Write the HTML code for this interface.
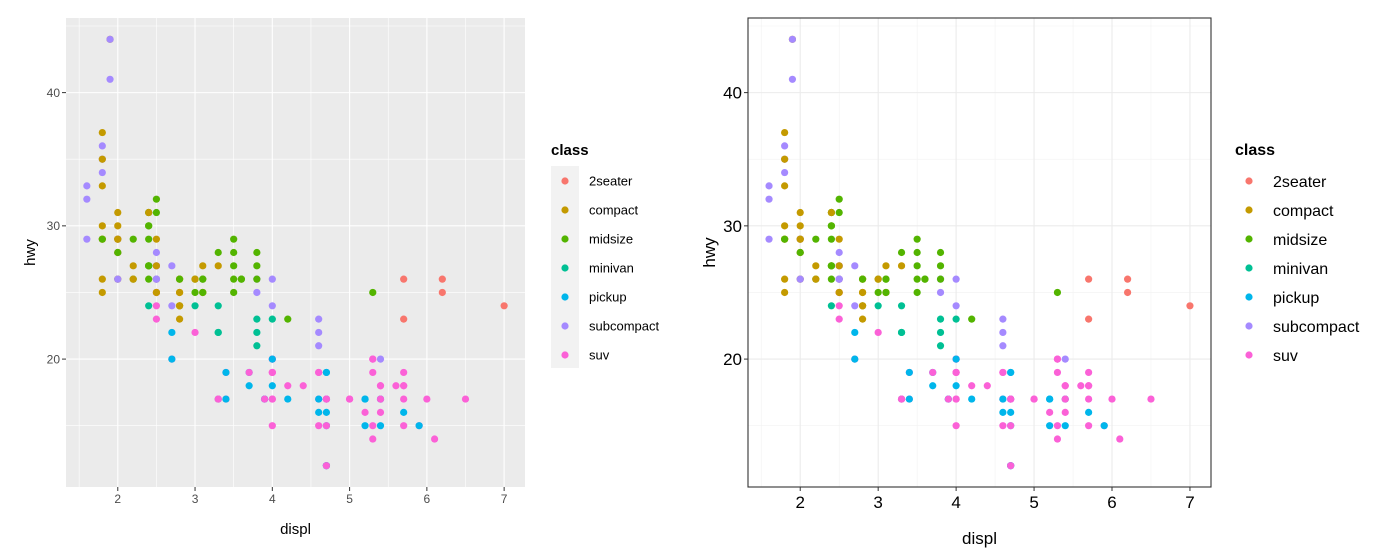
<!DOCTYPE html>
<html><head><meta charset="utf-8"><style>
body{margin:0;background:#fff;font-family:"Liberation Sans",Arial,sans-serif}
svg{display:block}
</style></head><body>
<svg id="c" width="1395" height="558" xmlns="http://www.w3.org/2000/svg"></svg>
<script>
const classes=["2seater","compact","midsize","minivan","pickup","subcompact","suv"];
const colors=["#F8766D","#C49A00","#53B400","#00C094","#00B6EB","#A58AFF","#FB61D7"];
const xTicks=[2,3,4,5,6,7];
const yTicks=[20,30,40];
const displ=[1.8,1.8,2.0,2.0,2.8,2.8,3.1,1.8,1.8,2.0,2.0,2.8,2.8,3.1,3.1,2.8,3.1,4.2,
5.3,5.3,5.3,5.7,6.0,5.7,5.7,6.2,6.2,7.0,5.3,5.3,5.7,6.5,2.4,2.4,3.1,3.5,3.6,
2.4,3.0,3.3,3.3,3.3,3.8,3.8,3.8,4.0,3.3,
3.7,3.7,3.9,3.9,4.7,4.7,4.7,5.2,5.2,3.9,4.7,4.7,4.7,5.2,5.7,5.9,4.7,4.7,4.7,4.7,5.2,5.7,5.9,
4.6,5.4,5.4,4.0,4.0,4.0,4.6,5.0,4.2,4.6,4.6,5.4,5.4,3.8,3.8,4.0,4.0,4.6,4.6,4.6,5.4,
1.6,1.6,1.6,1.8,1.8,1.8,2.0,2.4,2.4,2.4,2.4,2.5,3.3,2.0,2.0,2.0,2.7,2.7,
3.0,3.7,4.0,4.7,4.7,5.7,6.1,4.0,4.2,4.4,4.6,5.4,5.4,5.4,4.0,4.0,4.6,5.0,
2.4,2.4,2.5,2.5,3.5,3.5,3.0,3.5,3.3,3.3,4.0,5.6,3.1,3.8,3.8,3.8,5.3,
2.5,2.5,2.5,2.5,2.5,2.5,2.5,2.5,2.5,2.5,2.5,2.5,
2.7,3.4,3.4,4.0,4.7,2.2,2.2,2.4,3.0,3.5,2.2,2.2,2.4,3.0,3.3,1.8,1.8,1.8,1.8,4.7,5.7,
2.7,2.7,3.4,3.4,4.0,4.0,2.0,2.0,2.8,1.9,2.0,2.0,2.5,2.8,2.8,1.9,1.9,2.0,2.5,1.8,2.0,2.8,3.6];
const hwy=[29,29,31,30,26,26,27,26,25,28,29,25,25,25,25,24,25,23,
20,15,20,17,17,26,23,26,25,24,19,14,15,17,27,30,26,29,26,
24,24,22,22,24,23,21,22,23,17,
19,18,17,17,19,19,12,17,15,17,17,12,17,16,18,15,16,12,17,15,17,16,15,
17,17,18,17,19,19,19,17,17,16,17,15,17,26,25,26,24,21,22,23,20,
33,32,29,34,36,35,29,26,27,30,31,26,28,26,29,28,27,24,
22,19,20,17,12,19,14,15,18,18,15,17,16,18,17,19,19,17,
29,27,31,32,27,26,25,25,17,17,20,18,26,26,27,28,25,
25,24,27,25,26,23,26,26,27,25,27,25,
20,17,19,20,17,26,29,31,26,28,27,26,31,26,27,30,33,35,37,15,18,
20,22,17,19,18,20,29,28,24,44,29,26,29,23,24,44,41,26,28,29,28,26,26];
const cls=[1,1,1,1,1,1,1,1,1,1,1,1,1,1,1,2,2,2,
6,6,6,6,6,0,0,0,0,0,6,6,6,6,2,2,2,2,2,
3,3,3,3,3,3,3,3,3,3,
4,4,4,4,4,4,4,4,4,6,6,6,6,6,6,6,4,4,4,4,4,4,4,
6,6,6,6,6,6,6,6,4,4,4,4,4,5,5,5,5,5,5,5,5,
5,5,5,5,5,5,5,2,2,2,2,2,2,5,5,5,5,5,
6,6,6,6,6,6,6,6,6,6,6,6,6,6,6,6,6,6,
2,2,2,2,2,2,2,2,6,6,6,6,2,2,2,2,2,
6,6,6,6,6,6,5,5,5,1,1,1,
6,6,6,6,6,2,2,2,2,2,1,1,1,1,1,1,1,1,1,6,6,
4,4,4,4,4,4,1,1,1,1,1,1,1,1,1,5,5,5,5,2,2,2,2];

const NS="http://www.w3.org/2000/svg";
const svg=document.getElementById('c');
function mk(t,a,p){const e=document.createElementNS(NS,t);for(const k in a)e.setAttribute(k,a[k]);(p||svg).appendChild(e);return e;}

function panel(o){
  const g=mk('g',{});
  
  
  const X=v=>o.x0+(v-1.33)/(7.27-1.33)*(o.x1-o.x0);
  const Y=v=>o.y1-(v-10.4)/(45.6-10.4)*(o.y1-o.y0);
  mk('rect',{x:o.x0,y:o.y0,width:o.x1-o.x0,height:o.y1-o.y0,fill:o.bg},g);
  const minor=o.theme==='gray';
  [1.5,2.5,3.5,4.5,5.5,6.5].forEach(v=>mk('line',{x1:X(v),x2:X(v),y1:o.y0,y2:o.y1,stroke:minor?'#fff':'#f2f2f2','stroke-width':minor?0.6:0.6},g));
  [15,25,35,45].forEach(v=>{if(Y(v)>o.y0)mk('line',{x1:o.x0,x2:o.x1,y1:Y(v),y2:Y(v),stroke:minor?'#fff':'#f2f2f2','stroke-width':0.6},g);});
  xTicks.forEach(v=>mk('line',{x1:X(v),x2:X(v),y1:o.y0,y2:o.y1,stroke:minor?'#fff':'#ebebeb','stroke-width':1.1},g));
  yTicks.forEach(v=>mk('line',{x1:o.x0,x2:o.x1,y1:Y(v),y2:Y(v),stroke:minor?'#fff':'#ebebeb','stroke-width':1.1},g));
  for(let i=0;i<displ.length;i++){
    const c=mk('circle',{cx:X(displ[i]),cy:Y(hwy[i]),r:3.6,fill:colors[cls[i]]},g);
    
    
  }
  if(o.theme!=='gray')mk('rect',{x:o.x0,y:o.y0,width:o.x1-o.x0,height:o.y1-o.y0,fill:'none',stroke:'#333','stroke-width':1.1},g);
  xTicks.forEach(v=>{
    mk('line',{x1:X(v),x2:X(v),y1:o.y1,y2:o.y1+4,stroke:'#333'},g);
    const t=mk('text',{x:X(v),y:o.y1+o.tf+4,'text-anchor':'middle','font-size':o.tf,fill:o.tc},g);t.textContent=v;
    
    
  });
  yTicks.forEach(v=>{
    mk('line',{x1:o.x0-4,x2:o.x0,y1:Y(v),y2:Y(v),stroke:'#333'},g);
    const t=mk('text',{x:o.x0-6,y:Y(v)+o.tf*0.36,'text-anchor':'end','font-size':o.tf,fill:o.tc},g);t.textContent=v;
    
    
  });
  let t=mk('text',{x:(o.x0+o.x1)/2,y:o.xty,'text-anchor':'middle','font-size':o.af,fill:'#000'},g);t.textContent='displ';
  
  
  t=mk('text',{x:0,y:0,'text-anchor':'middle','font-size':o.af,fill:'#000',transform:`translate(${o.ytx},${(o.y0+o.y1)/2}) rotate(-90)`},g);t.textContent='hwy';
  
  
  // legend
  const lg=mk('g',{},g);
  
  
  t=mk('text',{x:o.lx,y:155,'font-size':o.ltf,'font-weight':'bold',fill:'#000'},lg);t.textContent='class';
  
  
  if(o.theme==='gray')mk('rect',{x:o.lx,y:166,width:28,height:202,fill:'#f2f2f2'},lg);
  classes.forEach((c,i)=>{
    const y=181+i*29;
    const e=mk('g',{},lg);
    
    
    mk('circle',{cx:o.lx+14,cy:y,r:3.6,fill:colors[i]},e);
    const tt=mk('text',{x:o.lx+38,y:y+o.lf*0.36,'font-size':o.lf,fill:'#000'},e);tt.textContent=c;
  });
}
panel({name:'left-panel',x0:66,x1:525,y0:18,y1:487,bg:'#EBEBEB',theme:'gray',tf:12,tc:'#4D4D4D',af:15,xty:534,ytx:35,lx:551,ltf:15,lf:13});
panel({name:'right-panel',x0:748,x1:1211,y0:18,y1:487,bg:'#fff',theme:'bw',tf:17,tc:'#000',af:17,xty:544,ytx:715,lx:1235,ltf:16,lf:16});
</script>
</body></html>
